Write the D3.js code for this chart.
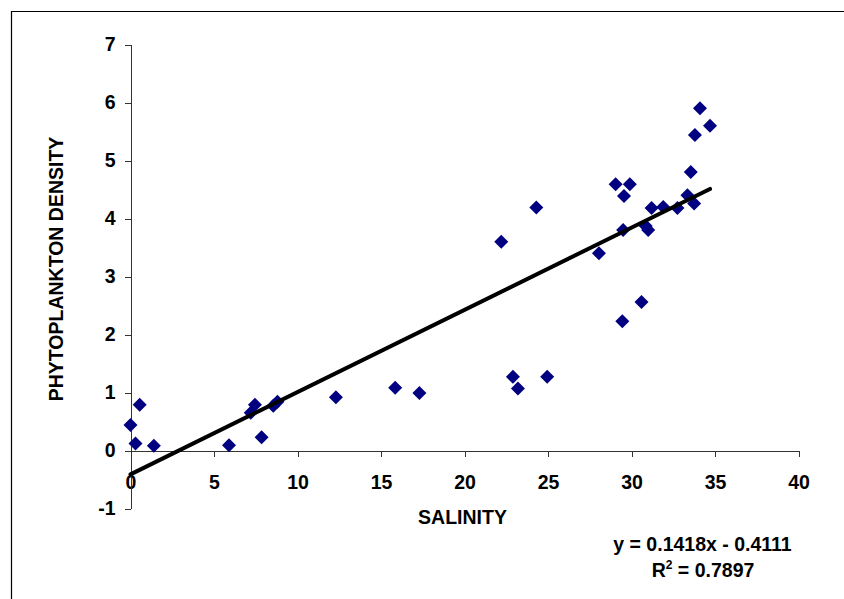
<!DOCTYPE html>
<meta charset="utf-8">
<style>
	body {
		margin: 0;
		background: #fff;
	}

	svg text {
		font-family: "Liberation Sans", Arial, sans-serif;
		font-weight: bold;
		font-size: 19.5px;
		fill: #000;
	}

	.axis path,
	.axis line {
		stroke: #333;
		shape-rendering: crispEdges;
	}
</style>
<svg width="844" height="599"></svg>
<script src="https://d3js.org/d3.v7.min.js"></script>
<script>
	// salinity (x) and phytoplankton density (y)
	var salinity = [0.0, 0.3, 0.55, 1.4, 5.9, 7.2, 7.45, 7.85, 8.55, 8.8, 12.3, 15.85, 17.3, 22.2,
		22.9, 23.2, 24.3, 24.95, 28.05, 29.05, 29.45, 29.5, 29.55, 29.9, 30.6, 30.85, 31.0, 31.2,
		31.9, 32.75, 33.35, 33.55, 33.75, 33.8, 34.1, 34.7
	]
	var density = [0.44, 0.12, 0.79, 0.08, 0.09, 0.65, 0.79, 0.23, 0.77, 0.84, 0.92, 1.08, 0.99, 3.6,
		1.27, 1.07, 4.19, 1.27, 3.4, 4.59, 2.23, 3.8, 4.39, 4.59, 2.56, 3.87, 3.8, 4.18,
		4.2, 4.18, 4.4, 4.8, 4.26, 5.44, 5.9, 5.6
	]
	var xTicks = [0, 5, 10, 15, 20, 25, 30, 35, 40]
	var yTicks = [-1, 0, 1, 2, 3, 4, 5, 6, 7]
	var slope = 0.1418,
		intercept = -0.4111,
		r2 = '0.7897'

	var data = salinity.map(function (s, i) {
		return { x: s, y: density[i] }
	})

	var svg = d3.select('svg')

	// chart frame (only top and left edges are inside the picture)
	svg.append('path')
		.attr('d', 'M11.5,599V11.5H844')
		.attr('fill', 'none')
		.attr('stroke', '#000')
		.attr('stroke-width', 1.2)

	var x = d3.scaleLinear().domain([0, 40]).range([130.5, 798.5]),
		y = d3.scaleLinear().domain([-1, 7]).range([508.5, 44.5])

	// plain hyphen for negatives, like the original
	var fmt = function (d) { return String(d) }

	var xAxis = d3.axisBottom(x).tickValues(xTicks).tickFormat(fmt)
		.tickSize(6).tickSizeOuter(0).tickPadding(19),
		yAxis = d3.axisLeft(y).tickValues(yTicks).tickFormat(fmt)
		.tickSize(6).tickSizeOuter(0).tickPadding(9)

	svg.append('g')
		.attr('class', 'axis axis--x')
		.attr('transform', 'translate(0,' + y(0) + ')')
		.call(xAxis)

	svg.append('g')
		.attr('class', 'axis axis--y')
		.attr('transform', 'translate(' + x(0) + ',0)')
		.call(yAxis)

	svg.selectAll('.axis text')
		.attr('font-size', null)
		.attr('font-family', null)
		.attr('fill', '#000')

	// data points as diamonds
	svg.selectAll('.point')
		.data(data)
		.enter()
		.append('path')
		.attr('class', 'point')
		.attr('d', d3.symbol().type(d3.symbolSquare).size(98))
		.attr('transform', function (d) {
			return 'translate(' + x(d.x) + ',' + y(d.y) + ') rotate(45)'
		})
		.attr('fill', '#000080')

	// linear trend line
	var xMin = d3.min(salinity),
		xMax = d3.max(salinity)
	var trend = [xMin, xMax].map(function (v) {
		return { x: v, y: slope * v + intercept }
	})
	var line = d3.line()
		.x(function (d) { return x(d.x) })
		.y(function (d) { return y(d.y) })

	svg.append('path')
		.attr('d', line(trend))
		.attr('stroke', '#000')
		.attr('stroke-width', 4)
		.attr('stroke-linecap', 'round')
		.attr('fill', 'none')

	// axis titles
	svg.append('text')
		.attr('x', 462.5)
		.attr('y', 524)
		.attr('text-anchor', 'middle')
		.text('SALINITY')

	svg.append('text')
		.attr('transform', 'translate(63,269) rotate(-90)')
		.attr('text-anchor', 'middle')
		.text('PHYTOPLANKTON DENSITY')

	// trend equation
	svg.append('text')
		.attr('x', 702.5)
		.attr('y', 551)
		.attr('text-anchor', 'middle')
		.text('y = ' + slope.toFixed(4) + 'x - ' + Math.abs(intercept).toFixed(4))

	var rt = svg.append('text')
		.attr('x', 703)
		.attr('y', 577)
		.attr('text-anchor', 'middle')
	rt.append('tspan').text('R')
	rt.append('tspan').attr('dy', -8).attr('font-size', '12px').text('2')
	rt.append('tspan').attr('dy', 8).text(' = ' + r2)
</script>
